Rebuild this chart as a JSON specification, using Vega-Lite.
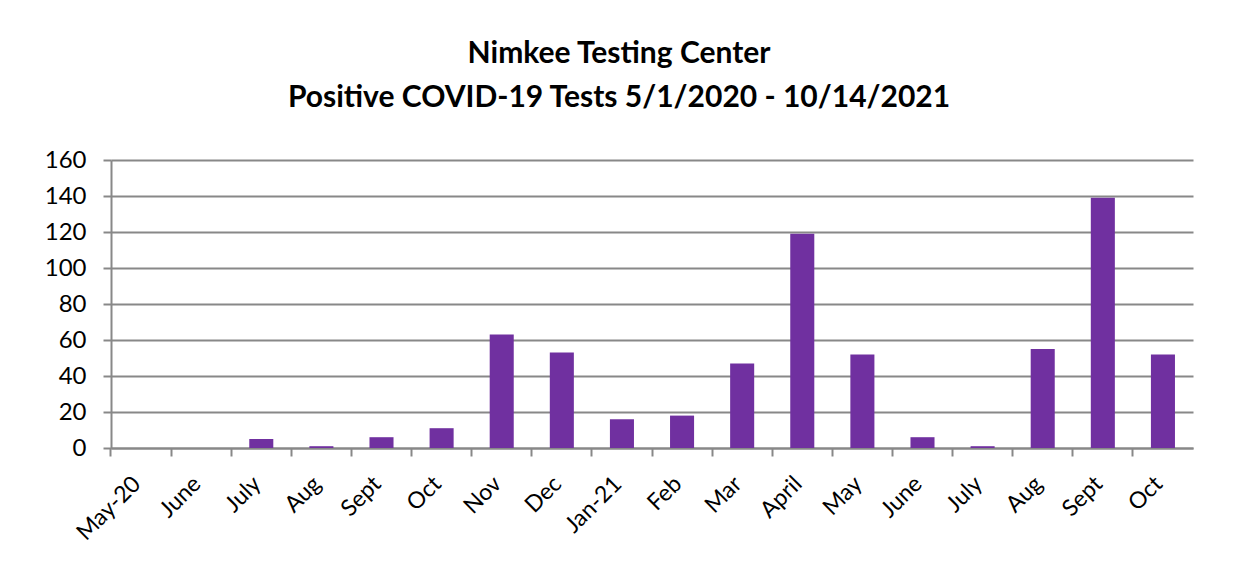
{
  "$schema": "https://vega.github.io/schema/vega-lite/v6.json",
  "width": 1082,
  "height": 288,
  "autosize": {"type": "none"},
  "padding": {"left": 111, "top": 160, "right": 41, "bottom": 132},
  "background": "white",
  "title": {
    "text": ["Nimkee Testing Center", "Positive COVID-19 Tests 5/1/2020 - 10/14/2021"],
    "font": "Lato",
    "fontSize": 30,
    "fontWeight": "bold",
    "color": "black",
    "anchor": "middle",
    "frame": "group",
    "dx": -33,
    "offset": 35,
    "lineHeight": 44
  },
  "data": {
    "values": [
      {"month": "May-20", "positives": 0},
      {"month": "June", "positives": 0},
      {"month": "July", "positives": 5},
      {"month": "Aug", "positives": 1},
      {"month": "Sept", "positives": 6},
      {"month": "Oct", "positives": 11},
      {"month": "Nov", "positives": 63},
      {"month": "Dec", "positives": 53},
      {"month": "Jan-21", "positives": 16},
      {"month": "Feb", "positives": 18},
      {"month": "Mar", "positives": 47},
      {"month": "April", "positives": 119},
      {"month": "May", "positives": 52},
      {"month": "June ", "positives": 6},
      {"month": "July ", "positives": 1},
      {"month": "Aug ", "positives": 55},
      {"month": "Sept ", "positives": 139},
      {"month": "Oct ", "positives": 52}
    ]
  },
  "mark": {"type": "bar", "color": "#7030A0"},
  "encoding": {
    "x": {
      "field": "month",
      "type": "nominal",
      "sort": null,
      "scale": {"paddingInner": 0.6, "paddingOuter": 0.3},
      "axis": {
        "title": null,
        "grid": false,
        "bandPosition": -0.75,
        "labelOffset": -4,
        "labelAngle": -45,
        "labelAlign": "right",
        "labelBaseline": "middle",
        "labelFont": "Lato",
        "labelFontSize": 23,
        "labelColor": "black",
        "labelPadding": 24,
        "domainColor": "#888888",
        "domainWidth": 2,
        "tickColor": "#888888",
        "tickWidth": 2,
        "tickSize": 8
      }
    },
    "y": {
      "field": "positives",
      "type": "quantitative",
      "scale": {"domain": [0, 160], "nice": false},
      "axis": {
        "title": null,
        "values": [0, 20, 40, 60, 80, 100, 120, 140, 160],
        "labelFont": "Lato",
        "labelFontSize": 24,
        "labelColor": "black",
        "labelPadding": 17,
        "domainColor": "#888888",
        "domainWidth": 2,
        "tickColor": "#888888",
        "tickWidth": 2,
        "tickSize": 8,
        "gridColor": "#888888",
        "gridWidth": 2
      }
    }
  },
  "config": {"view": {"stroke": null}}
}
